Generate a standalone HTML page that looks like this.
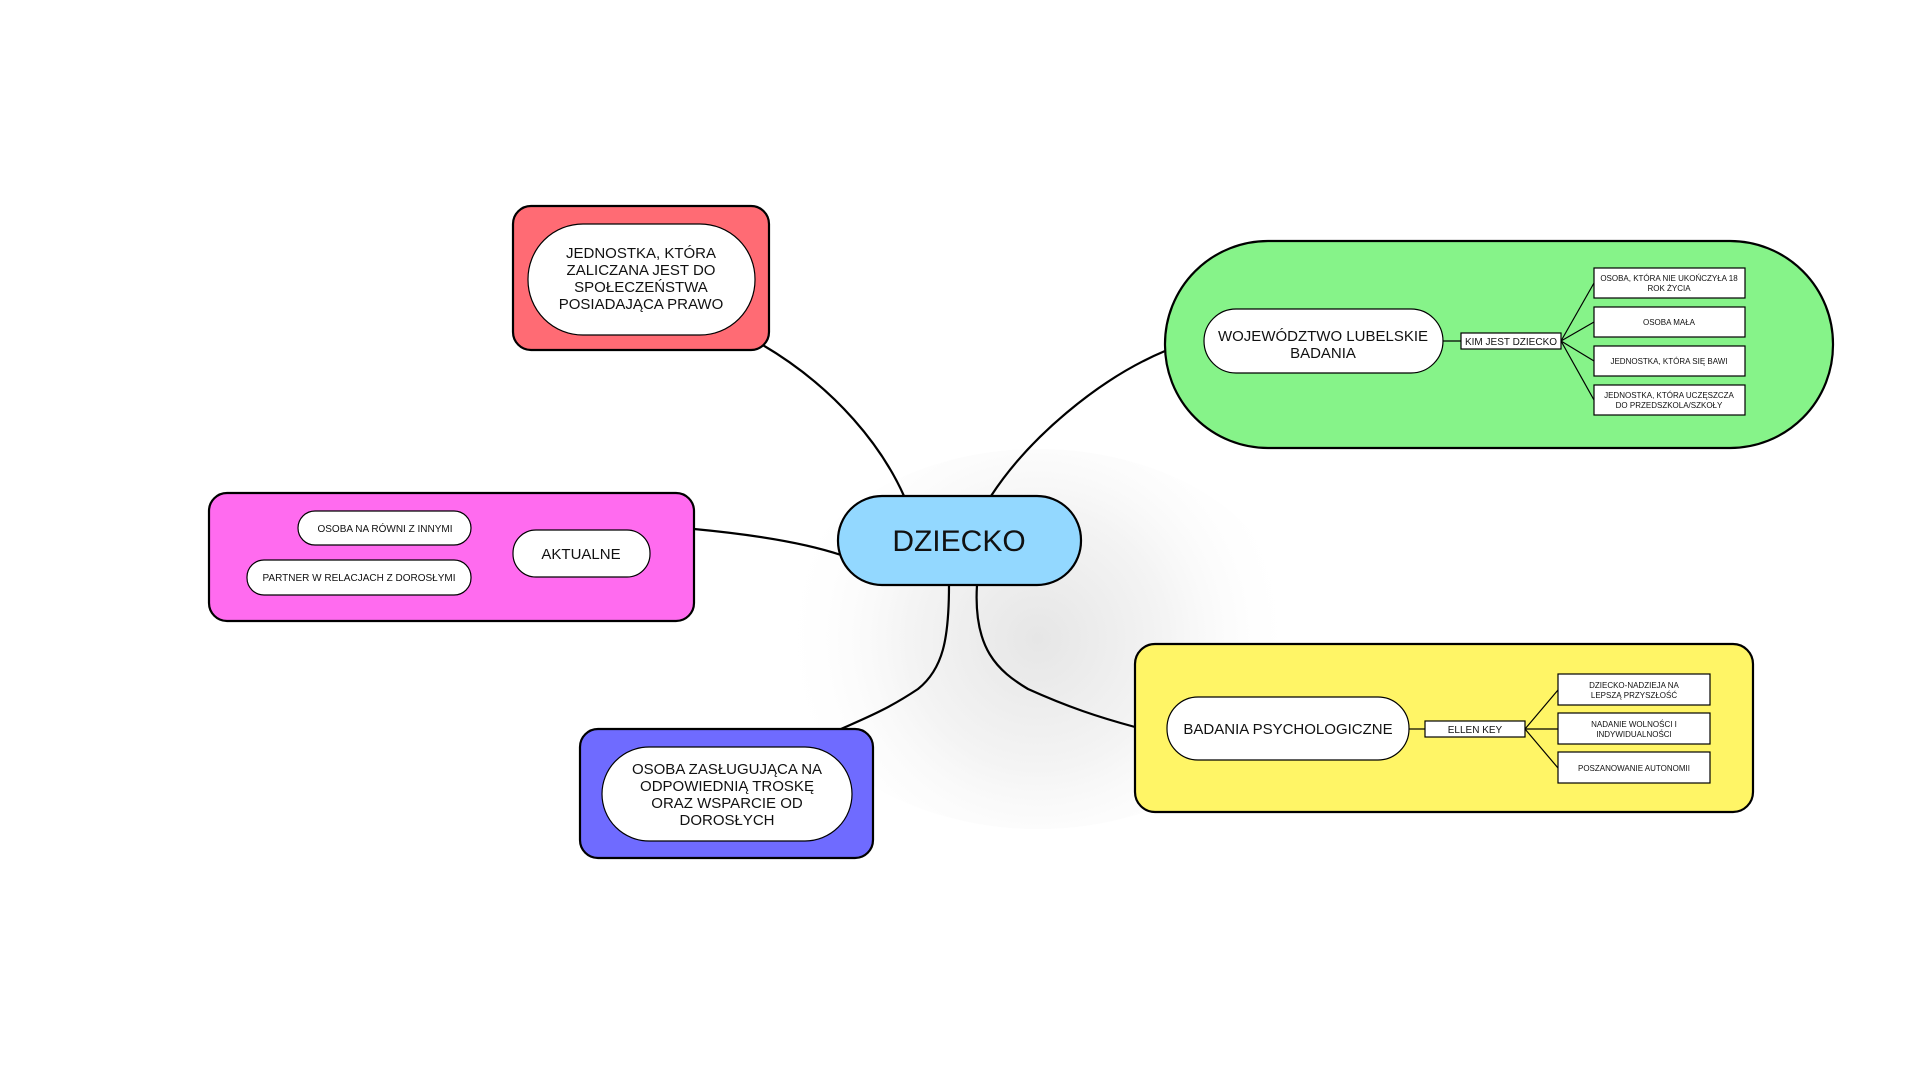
<!DOCTYPE html>
<html><head><meta charset="utf-8"><style>
html,body{margin:0;padding:0;background:#fff;width:1920px;height:1080px;overflow:hidden}
svg{display:block}
text{font-family:"Liberation Sans",Arial,sans-serif;fill:#111}
</style></head><body>
<svg width="1920" height="1080" viewBox="0 0 1920 1080">
<defs>
<radialGradient id="sh" cx="1040" cy="640" r="260" gradientUnits="userSpaceOnUse">
<stop offset="0" stop-color="#e6e6e6"/><stop offset="0.5" stop-color="#f4f4f4"/><stop offset="1" stop-color="#fff" stop-opacity="0"/>
</radialGradient>
</defs>
<g transform="translate(-2,-1)">
<ellipse cx="1040" cy="640" rx="260" ry="190" fill="url(#sh)"/>
<g fill="none" stroke="#000" stroke-width="2.2">
<path d="M763,345 C840,390 885,450 906,497"/>
<path d="M993,497 C1030,440 1100,380 1167,352"/>
<path d="M696,530 C760,536 810,545 843,556"/>
<path d="M951,586 C951,640 945,670 920,690 C890,710 870,718 843,730"/>
<path d="M979,586 C975,650 1000,672 1030,690 C1070,708 1100,718 1137,728"/>
</g>
<rect x="515" y="207" width="256" height="144" rx="18" fill="#ff6b74" stroke="#000" stroke-width="2.2"/>
<rect x="530" y="225" width="227" height="111" rx="55" fill="#fff" stroke="#000" stroke-width="1.2"/>
<g font-size="15" text-anchor="middle">
<text x="643" y="259">JEDNOSTKA, KTÓRA</text>
<text x="643" y="276">ZALICZANA JEST DO</text>
<text x="643" y="293">SPOŁECZEŃSTWA</text>
<text x="643" y="310">POSIADAJĄCA PRAWO</text>
</g>
<rect x="1167" y="242" width="668" height="207" rx="103" fill="#86f389" stroke="#000" stroke-width="2.2"/>
<rect x="1206" y="310" width="239" height="64" rx="32" fill="#fff" stroke="#000" stroke-width="1.2"/>
<text x="1325" y="342" font-size="15" text-anchor="middle">WOJEWÓDZTWO LUBELSKIE</text>
<text x="1325" y="359" font-size="15" text-anchor="middle">BADANIA</text>
<g stroke="#000" stroke-width="1.2">
<line x1="1445" y1="342" x2="1463" y2="342"/>
<line x1="1563" y1="342" x2="1596" y2="284"/>
<line x1="1563" y1="342" x2="1596" y2="323"/>
<line x1="1563" y1="342" x2="1596" y2="362"/>
<line x1="1563" y1="342" x2="1596" y2="401"/>
</g>
<g fill="#fff" stroke="#000" stroke-width="1.2">
<rect x="1463" y="334" width="100" height="16"/>
<rect x="1596" y="269" width="151" height="30"/>
<rect x="1596" y="308" width="151" height="30"/>
<rect x="1596" y="347" width="151" height="30"/>
<rect x="1596" y="386" width="151" height="30"/>
</g>
<text x="1513" y="346" font-size="10" text-anchor="middle">KIM JEST DZIECKO</text>
<g font-size="8" text-anchor="middle">
<text x="1671" y="282">OSOBA, KTÓRA NIE UKOŃCZYŁA 18</text>
<text x="1671" y="292">ROK ŻYCIA</text>
<text x="1671" y="326">OSOBA MAŁA</text>
<text x="1671" y="365">JEDNOSTKA, KTÓRA SIĘ BAWI</text>
<text x="1671" y="399">JEDNOSTKA, KTÓRA UCZĘSZCZA</text>
<text x="1671" y="409">DO PRZEDSZKOLA/SZKOŁY</text>
</g>
<rect x="211" y="494" width="485" height="128" rx="18" fill="#ff6bef" stroke="#000" stroke-width="2.2"/>
<g fill="#fff" stroke="#000" stroke-width="1.2">
<rect x="300" y="512" width="173" height="34" rx="17"/>
<rect x="249" y="561" width="224" height="35" rx="17"/>
<rect x="515" y="531" width="137" height="47" rx="23"/>
</g>
<text x="387" y="533" font-size="10" text-anchor="middle">OSOBA NA RÓWNI Z INNYMI</text>
<text x="361" y="582" font-size="10" text-anchor="middle">PARTNER W RELACJACH Z DOROSŁYMI</text>
<text x="583" y="560" font-size="15" text-anchor="middle">AKTUALNE</text>
<rect x="840" y="497" width="243" height="89" rx="44" fill="#93d8ff" stroke="#000" stroke-width="2.2"/>
<text x="961" y="552" font-size="30" text-anchor="middle">DZIECKO</text>
<rect x="1137" y="645" width="618" height="168" rx="20" fill="#fff566" stroke="#000" stroke-width="2.2"/>
<rect x="1169" y="698" width="242" height="63" rx="31" fill="#fff" stroke="#000" stroke-width="1.2"/>
<text x="1290" y="735" font-size="15" text-anchor="middle">BADANIA PSYCHOLOGICZNE</text>
<g stroke="#000" stroke-width="1.2">
<line x1="1411" y1="730" x2="1427" y2="730"/>
<line x1="1527" y1="730" x2="1560" y2="691"/>
<line x1="1527" y1="730" x2="1560" y2="730"/>
<line x1="1527" y1="730" x2="1560" y2="769"/>
</g>
<g fill="#fff" stroke="#000" stroke-width="1.2">
<rect x="1427" y="722" width="100" height="16"/>
<rect x="1560" y="675" width="152" height="31"/>
<rect x="1560" y="714" width="152" height="31"/>
<rect x="1560" y="753" width="152" height="31"/>
</g>
<text x="1477" y="734" font-size="10" text-anchor="middle">ELLEN KEY</text>
<g font-size="8" text-anchor="middle">
<text x="1636" y="689">DZIECKO-NADZIEJA NA</text>
<text x="1636" y="699">LEPSZĄ PRZYSZŁOŚĆ</text>
<text x="1636" y="728">NADANIE WOLNOŚCI I</text>
<text x="1636" y="738">INDYWIDUALNOŚCI</text>
<text x="1636" y="772">POSZANOWANIE AUTONOMII</text>
</g>
<rect x="582" y="730" width="293" height="129" rx="18" fill="#6f6bff" stroke="#000" stroke-width="2.2"/>
<rect x="604" y="748" width="250" height="94" rx="47" fill="#fff" stroke="#000" stroke-width="1.2"/>
<g font-size="15" text-anchor="middle">
<text x="729" y="775">OSOBA ZASŁUGUJĄCA NA</text>
<text x="729" y="792">ODPOWIEDNIĄ TROSKĘ</text>
<text x="729" y="809">ORAZ WSPARCIE OD</text>
<text x="729" y="826">DOROSŁYCH</text>
</g>
</g>
</svg>
</body></html>
